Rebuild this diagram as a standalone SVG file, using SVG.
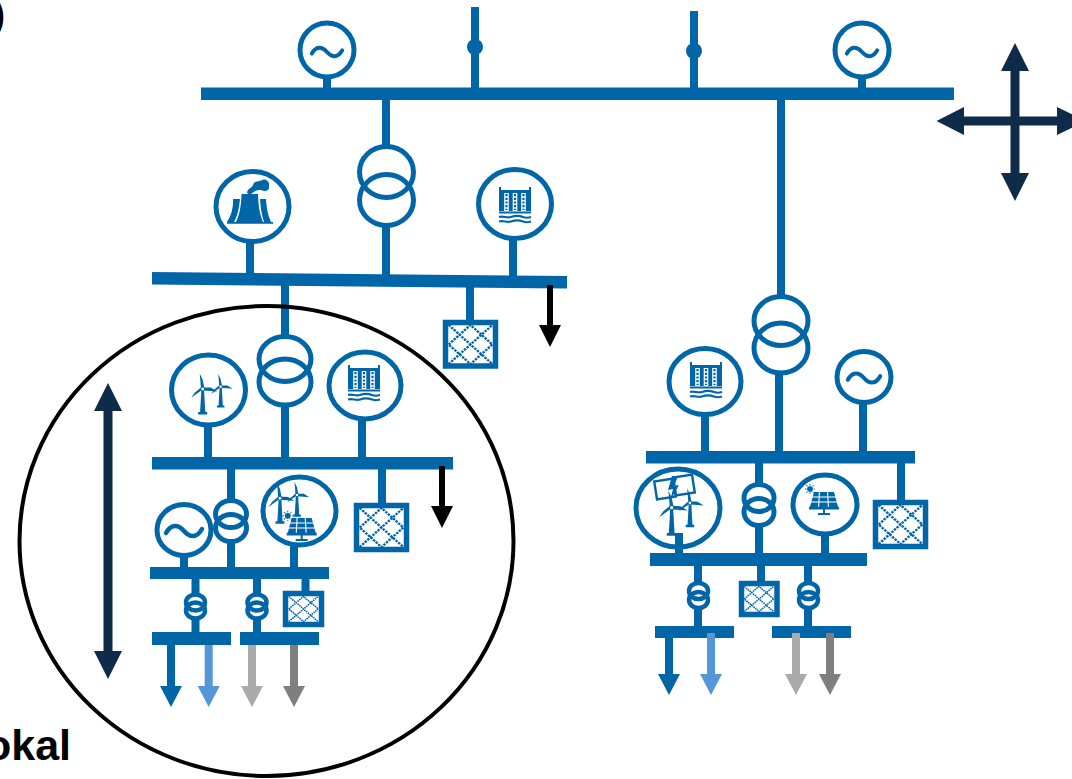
<svg xmlns="http://www.w3.org/2000/svg" width="1072" height="779" viewBox="0 0 1072 779">
<style>
.r{fill:none;stroke:#0066a8;stroke-width:5}
.m{fill:none;stroke:#0066a8;stroke-width:5.500}
.q{fill:none;stroke:#0066a8;stroke-width:4.500}
.b{fill:#0066a8}
.l{stroke:#0066a8;fill:none}
.w{fill:none;stroke:#fff}
.t{font-family:"Liberation Sans",Arial,sans-serif;font-weight:700;fill:#000}
</style>
<defs>
<path id="sine" d="M-18 2C-13-7-6-7 0 0S13 7 18-2" fill="none" stroke="#0066a8" stroke-width="4.500" stroke-linecap="round"/>
<g id="turbine">
<path class="b" d="M-1.300 0L1.300 0L2.600 23L4.500 23L4.500 25.500L-4.500 25.500L-4.500 23L-2.600 23Z"/>
<path class="b" d="M-1.800-1L-2.400-9L-3-15.500L-.1-9.500L1.600-1ZM1-1.800L8-1.400L14.500 2.600L8 2L.6 1.600ZM-.4 .8L-6 4.800L-11.500 8.800L-7.800 3.400L-1.800-1.600Z"/>
<circle r="2" fill="#fff" stroke="#0066a8"/>
</g>
<g id="hydro">
<path class="b" d="M-16 0L-14 0L-14 3L14 3L14 0L16 0L16 24L-16 24Z"/>
<path fill="#fff" d="M-10.800 6h4.600v18h-4.600zM-2.300 6h4.600v18h-4.600zM6.200 6h4.600v18h-4.600z"/>
<path stroke="#0066a8" stroke-width="2.200" stroke-dasharray="2.200 1.500" fill="none" d="M-8.500 7V23M0 7V23M8.500 7V23"/>
<path stroke="#0066a8" stroke-width="2.200" fill="none" d="M-16 25.500H16M-16 30C-12 28.500-8 31.500-4 30S4 28.500 8 30S14 30.700 16 30M-16 34.500C-12 33-8 36-4 34.500S4 33 8 34.500S14 35.200 16 34.500"/>
</g>
<g id="coal">
<path class="b" d="M-23 0H23V1.800H-23Z"/>
<path class="b" d="M-17-23H-10C-11-13-12.500-6-16 0H-23C-18.500-7-16.500-15-17-23ZM10-23H16C16.500-15 17.500-7 21 0H14C11.500-7 10.500-15 10-23ZM-8.500-28H8C8.300-16 10-7 13 0H-14C-10.500-7-8.800-16-8.500-28Z"/>
<path class="b" d="M-3-29.500C-2-34 2-34 3-37C4-42 10-40 12-42C16-44 20-40 19-36C20-32 16-30 12-31.500C9-32.500 6-31.500 3-29.500C1-27.500-2-27.500-3-29.500Z"/>
</g>
<g id="pv">
<path class="b" d="M-10-11H10L14 4H-14Z"/>
<path class="w" stroke-width="1.100" d="M-13-6H13M-14-1H14M-4.500-12L-5.500 5M3.500-12L4.500 5"/>
<path class="b" d="M-15 3.800H15V6.500H-15ZM-1 6H1V11H-1ZM-6 10H6V12H-6Z"/>
</g>
<g id="sun">
<circle r="2.800" class="b"/>
<path stroke="#0066a8" stroke-width="1.100" stroke-dasharray="1.500 .8" d="M-5 0H5M0-5V5M-3.600-3.600L3.600 3.600M-3.600 3.600L3.600-3.600"/>
</g>
<g id="st">
<path fill="none" stroke="#0066a8" stroke-width="2.400" stroke-dasharray="2.400 1.100" d="M-21-21L21 21M-21 21L21-21M-21 0L0-21L21 0L0 21Z"/>
</g>
<path id="aBlack" d="M-3 0H3V40H11L0 62L-11 40H-3Z"/>
<path id="aSmall" d="M-4 0H4V41H11L0 62L-11 41H-4Z"/>
</defs>

<g id="connectors">
<g class="l" stroke-width="8">
<path d="M327 76V90M862 76V90M386 98V147M386 226V276M250 242V276M513 240V279M470 286V322M285 285V337M285 407V459M208 426V459M362 420V459"/>
<path d="M231 467V500M231 542V569M184 556V569M294 546V569M382 467V505"/>
<path d="M195.500 577V594M195.500 619V634M257 577V594M257 619V634M305.500 577V592"/>
<path d="M781 98V296M779 374V453M705 415V453M863 403V453M759 461V484M759 526V555M679 533V555M825 535V555M901 461V502"/>
<path d="M698 564V583M698 609V628M808 564V583M808 609V628M761 564V582"/>
<path d="M475 7V89M694 11V89"/>
</g>
<circle cx="475" cy="47" r="8" class="b"/>
<circle cx="694" cy="51" r="8" class="b"/>
</g>

<g id="buses" class="b">
<rect x="201" y="87.500" width="753" height="12.500"/>
<path d="M152 272L567 276V288.500L152 284.500Z"/>
<rect x="152" y="457" width="301" height="12.500"/>
<rect x="150" y="567" width="179" height="12"/>
<rect x="152" y="632" width="79" height="13"/>
<rect x="240" y="632" width="79" height="13"/>
<rect x="646" y="451" width="269" height="12.500"/>
<rect x="650" y="553" width="217" height="13"/>
<rect x="655" y="626" width="79" height="12"/>
<rect x="772" y="626" width="79" height="12"/>
</g>

<g id="gen-1"><circle cx="327" cy="50" r="27" class="r"/><use href="#sine" transform="translate(327 52) scale(.85)"/></g>
<g id="gen-2"><circle cx="862" cy="50" r="27" class="r"/><use href="#sine" transform="translate(862 52) scale(.85)"/></g>
<g id="coal-1"><ellipse cx="252.500" cy="206.500" rx="36.500" ry="35" class="r"/><use href="#coal" transform="translate(250 222)"/></g>
<g id="tr-1" class="r"><ellipse cx="386.500" cy="172" rx="27" ry="25.500"/><ellipse cx="386.500" cy="200" rx="27" ry="25.500"/></g>
<g id="hydro-1"><ellipse cx="515" cy="204" rx="36.500" ry="34.500" class="r"/><use href="#hydro" transform="translate(515 187)"/></g>
<g id="store-1"><rect x="445.500" y="322.500" width="50" height="43.500" class="m"/><use href="#st" transform="translate(470.500 344.500) scale(1.040 .93)"/></g>
<use id="load-1" href="#aBlack" transform="translate(550 285)"/>

<g id="tr-2" class="r"><ellipse cx="285" cy="359" rx="26" ry="22.500"/><ellipse cx="285" cy="382" rx="26" ry="23"/></g>
<g id="wind-1"><ellipse cx="208.500" cy="390" rx="37" ry="35" class="r"/><use href="#turbine" transform="translate(202.700 389)"/><use href="#turbine" transform="translate(220.700 386.700) scale(.82)"/></g>
<g id="hydro-2"><ellipse cx="365" cy="385.500" rx="36" ry="33.500" class="r"/><use href="#hydro" transform="translate(364 365)"/></g>
<g id="gen-3"><ellipse cx="184" cy="530" rx="27" ry="25.500" class="r"/><use href="#sine" transform="translate(184 531)"/></g>
<g id="tr-3" class="r"><ellipse cx="231" cy="514" rx="15.500" ry="13.500"/><ellipse cx="231" cy="528" rx="15.500" ry="13.500"/></g>
<g id="windpv-1"><ellipse cx="299.500" cy="511" rx="36.500" ry="34" class="r"/><use href="#turbine" transform="translate(280 498.300)"/><use href="#turbine" transform="translate(297 495) scale(.85)"/><use href="#sun" transform="translate(287.700 515.700)"/><use href="#pv" transform="translate(301.700 529)"/></g>
<g id="store-2"><rect x="356.500" y="505.500" width="50" height="44" class="m"/><use href="#st" transform="translate(381.500 527.500) scale(1.040 .93)"/></g>
<use id="load-2" href="#aBlack" transform="translate(442 466)"/>
<g id="tr-4" class="q"><ellipse cx="195.500" cy="602.500" rx="9.500" ry="8"/><ellipse cx="195.500" cy="610.500" rx="9.500" ry="8"/></g>
<g id="tr-5" class="q"><ellipse cx="257" cy="602.500" rx="9.500" ry="8"/><ellipse cx="257" cy="610.500" rx="9.500" ry="8"/></g>
<g id="store-3"><rect x="285.500" y="593.500" width="36" height="31" class="m"/><use href="#st" transform="translate(303.500 609) scale(.7 .6)"/></g>
<use id="ev-1" href="#aSmall" transform="translate(171 645)" fill="#0066a8"/>
<use id="ev-2" href="#aSmall" transform="translate(208.700 645)" fill="#5596d8"/>
<use id="ev-3" href="#aSmall" transform="translate(252 645)" fill="#aaaaaa"/>
<use id="ev-4" href="#aSmall" transform="translate(294 645)" fill="#7f7f7f"/>

<g id="tr-6" class="r"><ellipse cx="781" cy="321" rx="27" ry="24.500"/><ellipse cx="781" cy="348" rx="27" ry="25"/></g>
<g id="hydro-3"><ellipse cx="705" cy="381.500" rx="36" ry="33" class="r"/><use href="#hydro" transform="translate(706 362)"/></g>
<g id="gen-4"><ellipse cx="864" cy="377" rx="27" ry="25.500" class="r"/><use href="#sine" transform="translate(864 378) scale(.9)"/></g>
<g id="windbat-1"><ellipse cx="678" cy="508" rx="42" ry="39" class="r"/>
<g fill="#fff" stroke="#0066a8" stroke-width="2.400"><rect x="-9.500" y="-9" width="19" height="18" transform="translate(665 489) rotate(-9)"/><rect x="-9.500" y="-9" width="19" height="18" transform="translate(684 485) rotate(-9)"/></g>
<path class="b" d="M672 476L668 490L673 489L670 501L679 485L674 486L678 476Z"/>
<use href="#turbine" transform="translate(671.700 507.700) scale(1.100)"/><use href="#turbine" transform="translate(690 503) scale(.95)"/></g>
<g id="tr-7" class="r"><ellipse cx="759" cy="498" rx="15" ry="13.500"/><ellipse cx="759" cy="512" rx="15" ry="13.500"/></g>
<g id="pv-1"><ellipse cx="825" cy="504.500" rx="32" ry="29.500" class="r"/><use href="#sun" transform="translate(810 489)"/><use href="#pv" transform="translate(824 503)"/></g>
<g id="store-4"><rect x="875.500" y="502.500" width="50" height="44" class="m"/><use href="#st" transform="translate(900.500 524.500) scale(1.040 .93)"/></g>
<g id="tr-8" class="q"><ellipse cx="698.500" cy="591" rx="9.500" ry="8"/><ellipse cx="698.500" cy="600" rx="9.500" ry="8"/></g>
<g id="tr-9" class="q"><ellipse cx="808.500" cy="591" rx="9.500" ry="8"/><ellipse cx="808.500" cy="600" rx="9.500" ry="8"/></g>
<g id="store-5"><rect x="741.500" y="583.500" width="35.500" height="31" class="m"/><use href="#st" transform="translate(759 599) scale(.7 .6)"/></g>
<use id="ev-5" href="#aSmall" transform="translate(669 633)" fill="#0066a8"/>
<use id="ev-6" href="#aSmall" transform="translate(711 633)" fill="#5596d8"/>
<use id="ev-7" href="#aSmall" transform="translate(796 633)" fill="#aaaaaa"/>
<use id="ev-8" href="#aSmall" transform="translate(830 633)" fill="#7f7f7f"/>

<ellipse id="local-area" cx="266.500" cy="541" rx="247" ry="235" fill="none" stroke="#000" stroke-width="4"/>
<path id="range-v" fill="#0f2b4a" d="M108 383L122 411H112.500V651H122L108 679L94 651H103.500V411H94Z"/>
<path id="cross" fill="#0f2b4a" d="M1015 43L1029 71H1019.500V116.500H1057V107L1086 121L1057 135V125.500H1019.500V173H1029L1015 201L1001 173H1010.500V125.500H964V135L936.500 121L964 107V116.500H1010.500V71H1001Z"/>
<text class="t" x="71" y="760" font-size="43" text-anchor="end">okal</text>
<text class="t" x="5" y="27" font-size="36" text-anchor="end">)</text>
</svg>
